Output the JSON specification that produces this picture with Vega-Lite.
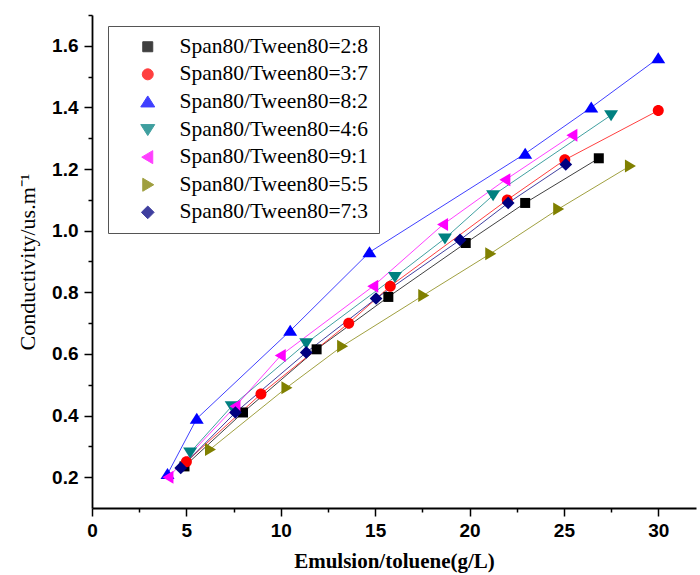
{
  "$schema": "https://vega.github.io/schema/vega-lite/v6.json",
  "autosize": "none",
  "width": 604,
  "height": 493,
  "padding": {"left": 92, "top": 15, "right": 4, "bottom": 67},
  "background": "white",
  "config": {"view": {"stroke": null}},
  "data": {"values": [
    {"s": "Span80/Tween80=2:8", "x": 4.9, "y": 0.235},
    {"s": "Span80/Tween80=2:8", "x": 8.0, "y": 0.41},
    {"s": "Span80/Tween80=2:8", "x": 11.9, "y": 0.615},
    {"s": "Span80/Tween80=2:8", "x": 15.7, "y": 0.785},
    {"s": "Span80/Tween80=2:8", "x": 19.8, "y": 0.96},
    {"s": "Span80/Tween80=2:8", "x": 22.95, "y": 1.09},
    {"s": "Span80/Tween80=2:8", "x": 26.85, "y": 1.235},
    {"s": "Span80/Tween80=3:7", "x": 5.0, "y": 0.25},
    {"s": "Span80/Tween80=3:7", "x": 8.95, "y": 0.47},
    {"s": "Span80/Tween80=3:7", "x": 13.6, "y": 0.70},
    {"s": "Span80/Tween80=3:7", "x": 15.8, "y": 0.82},
    {"s": "Span80/Tween80=3:7", "x": 22.0, "y": 1.10},
    {"s": "Span80/Tween80=3:7", "x": 25.05, "y": 1.23},
    {"s": "Span80/Tween80=3:7", "x": 30.0, "y": 1.39},
    {"s": "Span80/Tween80=8:2", "x": 4.0, "y": 0.21},
    {"s": "Span80/Tween80=8:2", "x": 5.55, "y": 0.39},
    {"s": "Span80/Tween80=8:2", "x": 10.5, "y": 0.675},
    {"s": "Span80/Tween80=8:2", "x": 14.7, "y": 0.93},
    {"s": "Span80/Tween80=8:2", "x": 22.95, "y": 1.25},
    {"s": "Span80/Tween80=8:2", "x": 26.45, "y": 1.40},
    {"s": "Span80/Tween80=8:2", "x": 30.0, "y": 1.56},
    {"s": "Span80/Tween80=4:6", "x": 5.2, "y": 0.28},
    {"s": "Span80/Tween80=4:6", "x": 7.4, "y": 0.43},
    {"s": "Span80/Tween80=4:6", "x": 11.35, "y": 0.635},
    {"s": "Span80/Tween80=4:6", "x": 16.05, "y": 0.85},
    {"s": "Span80/Tween80=4:6", "x": 18.7, "y": 0.975},
    {"s": "Span80/Tween80=4:6", "x": 21.25, "y": 1.115},
    {"s": "Span80/Tween80=4:6", "x": 27.5, "y": 1.375},
    {"s": "Span80/Tween80=9:1", "x": 4.05, "y": 0.20},
    {"s": "Span80/Tween80=9:1", "x": 7.6, "y": 0.43},
    {"s": "Span80/Tween80=9:1", "x": 10.0, "y": 0.595},
    {"s": "Span80/Tween80=9:1", "x": 14.9, "y": 0.82},
    {"s": "Span80/Tween80=9:1", "x": 18.6, "y": 1.02},
    {"s": "Span80/Tween80=9:1", "x": 21.9, "y": 1.165},
    {"s": "Span80/Tween80=9:1", "x": 25.45, "y": 1.31},
    {"s": "Span80/Tween80=5:5", "x": 6.25, "y": 0.29},
    {"s": "Span80/Tween80=5:5", "x": 10.3, "y": 0.49},
    {"s": "Span80/Tween80=5:5", "x": 13.25, "y": 0.625},
    {"s": "Span80/Tween80=5:5", "x": 17.55, "y": 0.79},
    {"s": "Span80/Tween80=5:5", "x": 21.1, "y": 0.925},
    {"s": "Span80/Tween80=5:5", "x": 24.7, "y": 1.07},
    {"s": "Span80/Tween80=5:5", "x": 28.5, "y": 1.21},
    {"s": "Span80/Tween80=7:3", "x": 4.7, "y": 0.23},
    {"s": "Span80/Tween80=7:3", "x": 7.6, "y": 0.41},
    {"s": "Span80/Tween80=7:3", "x": 11.35, "y": 0.605},
    {"s": "Span80/Tween80=7:3", "x": 15.05, "y": 0.78},
    {"s": "Span80/Tween80=7:3", "x": 19.5, "y": 0.97},
    {"s": "Span80/Tween80=7:3", "x": 22.05, "y": 1.09},
    {"s": "Span80/Tween80=7:3", "x": 25.1, "y": 1.215}
  ]},
  "encoding": {
    "x": {
      "field": "x", "type": "quantitative",
      "scale": {"domain": [0, 32], "nice": false, "zero": false},
      "axis": {
        "title": "Emulsion/toluene(g/L)",
        "values": [0, 2.5, 5, 7.5, 10, 12.5, 15, 17.5, 20, 22.5, 25, 27.5, 30],
        "labelExpr": "datum.value % 5 === 0 ? format(datum.value, 'd') : ''",
        "labelFlush": false,
        "grid": false,
        "domainColor": "#000", "domainWidth": 1.8,
        "tickColor": "#000", "tickWidth": 1.5,
        "tickSize": {"condition": {"test": "datum.value % 5 === 0", "value": 8}, "value": 4},
        "labelFont": "Liberation Sans", "labelFontWeight": "bold", "labelFontSize": 19, "labelColor": "#000",
        "labelPadding": 5,
        "titleFont": "Liberation Serif", "titleFontWeight": "bold", "titleFontSize": 21, "titleColor": "#000",
        "titlePadding": 10
      }
    },
    "y": {
      "field": "y", "type": "quantitative",
      "scale": {"domain": [0.1, 1.7], "nice": false, "zero": false},
      "axis": {
        "title": "Conductivity/us.m⁻¹",
        "values": [0.2, 0.3, 0.4, 0.5, 0.6, 0.7, 0.8, 0.9, 1.0, 1.1, 1.2, 1.3, 1.4, 1.5, 1.6, 1.7],
        "labelExpr": "round(datum.value * 10) % 2 === 0 ? format(datum.value, '.1f') : ''",
        "grid": false,
        "domainColor": "#000", "domainWidth": 1.8,
        "tickColor": "#000", "tickWidth": 1.5,
        "tickSize": {"condition": {"test": "round(datum.value * 10) % 2 === 0", "value": 8}, "value": 4},
        "labelFont": "Liberation Sans", "labelFontWeight": "bold", "labelFontSize": 19, "labelColor": "#000",
        "labelPadding": 6,
        "titleFont": "Liberation Serif", "titleFontWeight": "normal", "titleFontSize": 22, "titleColor": "#000",
        "titlePadding": 12
      }
    },
    "color": {"field": "s", "type": "nominal",
      "scale": {"domain": ["Span80/Tween80=2:8", "Span80/Tween80=3:7", "Span80/Tween80=8:2", "Span80/Tween80=4:6", "Span80/Tween80=9:1", "Span80/Tween80=5:5", "Span80/Tween80=7:3"],
                "range": ["#000000", "#FF0000", "#0000FF", "#008080", "#FF00FF", "#808000", "#000080"]},
      "legend": {
        "orient": "none", "legendX": 16, "legendY": 11, "title": null,
        "strokeColor": "#555", "fillColor": "white", "padding": 10,
        "labelFont": "Liberation Serif", "labelFontSize": 21.5, "labelColor": "#000", "labelLimit": 400,
        "symbolSize": 100, "symbolStrokeWidth": 1, "rowPadding": 4.6,
        "symbolOffset": 19, "labelOffset": 21,
        "encode": {"symbols": {
          "shape": {"value": {"expr": "['M-5,0H5M-1,-1H1V1H-1Z','M-5,0H5M-1.1,0A1.1,1.1 0 1,0 1.1,0A1.1,1.1 0 1,0 -1.1,0Z','M-5,0H5M0,-1.2L1.4,1H-1.4Z','M-5,0H5M0,1.2L1.4,-1H-1.4Z','M-5,0H5M-1.2,0L1,-1.3V1.3Z','M-5,0H5M1.2,0L-1,-1.3V1.3Z','M-5,0H5M0,-1.27L1.27,0L0,1.27L-1.27,0Z'][indexof(['Span80/Tween80=2:8','Span80/Tween80=3:7','Span80/Tween80=8:2','Span80/Tween80=4:6','Span80/Tween80=9:1','Span80/Tween80=5:5','Span80/Tween80=7:3'], datum.value)]"}},
          "fill": {"value": {"expr": "scale('color', datum.value)"}},
          "fillOpacity": {"value": 1},
          "opacity": {"value": 1},
          "stroke": {"value": {"expr": "scale('color', datum.value)"}},
          "strokeOpacity": {"value": 0.7},
          "strokeWidth": {"value": 1}
        }}
      }
    }
  },
  "layer": [
    {
      "mark": {"type": "line", "strokeWidth": 1, "opacity": 0.75}
    },
    {
      "mark": {"type": "point", "filled": true, "size": 100, "opacity": 1, "strokeWidth": 0},
      "encoding": {
        "shape": {"field": "s", "type": "nominal", "legend": null,
          "scale": {"domain": ["Span80/Tween80=2:8", "Span80/Tween80=3:7", "Span80/Tween80=8:2", "Span80/Tween80=4:6", "Span80/Tween80=9:1", "Span80/Tween80=5:5", "Span80/Tween80=7:3"],
                    "range": ["M-1,-1H1V1H-1Z", "M-1.1,0A1.1,1.1 0 1,0 1.1,0A1.1,1.1 0 1,0 -1.1,0Z", "M0,-1.2L1.4,1H-1.4Z", "M0,1.2L1.4,-1H-1.4Z", "M-1.2,0L1,-1.3V1.3Z", "M1.2,0L-1,-1.3V1.3Z", "M0,-1.27L1.27,0L0,1.27L-1.27,0Z"]}}
      }
    }
  ]
}
